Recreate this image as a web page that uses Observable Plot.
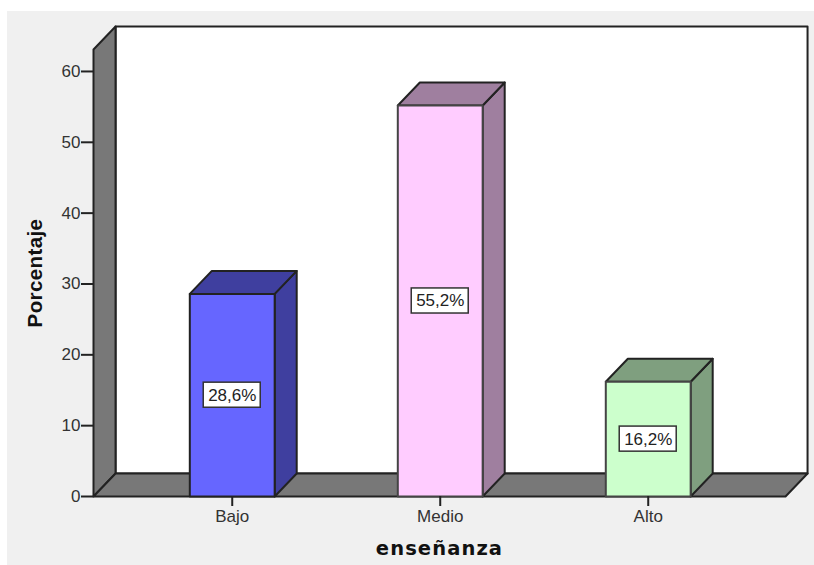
<!DOCTYPE html>
<html>
<head>
<meta charset="utf-8">
<script src="https://cdn.jsdelivr.net/npm/d3@7"></script>
<script src="https://cdn.jsdelivr.net/npm/@observablehq/plot@0.6"></script>
<style>
html,body{margin:0;padding:0;background:#fff}
svg{display:block}
.ytitle text{letter-spacing:.4px}
.xtitle text{letter-spacing:1.1px}
</style>
</head>
<body>
<div id="chart"></div>
<script>
const categories = ["Bajo", "Medio", "Alto"];
const percentages = [28.6, 55.2, 16.2];
const labels = ["28,6%", "55,2%", "16,2%"];
const frontColors = ["#6666ff", "#ffccff", "#ccffcc"];
const shadeColors = ["#3f3f9f", "#9f7f9f", "#7f9f7f"];
const yTicks = [0, 10, 20, 30, 40, 50, 60];

const yTop = 63.1;
const xMin = -0.667, xMax = 2.66;
const depthX = 0.106, depthY = 3.25;
const halfBar = 0.204;
const halfBoxX = 0.137, halfBoxY = 1.77;
const edge = "#222222";
const wall = "#787878";

const poly = (pts, fill, stroke = edge) =>
  Plot.line([...pts, pts[0]], {x: "0", y: "1", fill, stroke, strokeWidth: 2, strokeLinejoin: "round", curve: "linear"});
const box = (x0, x1, y0, y1) => [[x0, y0], [x1, y0], [x1, y1], [x0, y1]];

const backWall = poly(box(xMin + depthX, xMax + depthX, depthY, yTop + depthY), "#ffffff");
const leftWall = poly([[xMin, 0], [xMin + depthX, depthY], [xMin + depthX, yTop + depthY], [xMin, yTop]], wall);
const floor = poly([[xMin, 0], [xMax, 0], [xMax + depthX, depthY], [xMin + depthX, depthY]], wall);

const barMarks = categories.flatMap((c, i) => {
  const x0 = i - halfBar, x1 = i + halfBar, v = percentages[i];
  return [
    poly([[x1, 0], [x1 + depthX, depthY], [x1 + depthX, v + depthY], [x1, v]], shadeColors[i]),
    poly([[x0, v], [x1, v], [x1 + depthX, v + depthY], [x0 + depthX, v + depthY]], shadeColors[i]),
    poly(box(x0, x1, 0, v), frontColors[i], i === 0 ? edge : "#444444")
  ];
});

const rows = categories.map((c, i) => ({i, v: percentages[i] / 2, label: labels[i]}));

const plot = Plot.plot({
  width: 814,
  height: 565,
  marginLeft: 93,
  marginRight: 29,
  marginTop: 49,
  marginBottom: 69,
  style: {
    fontFamily: "'Liberation Sans', Arial, sans-serif",
    background: "linear-gradient(#f0f0f0,#f0f0f0) no-repeat 7px 11px",
    overflow: "visible"
  },
  x: {domain: [xMin, xMax]},
  y: {domain: [0, yTop]},
  marks: [
    backWall, leftWall, floor,
    ...barMarks,
    Plot.rect(rows, {
      x1: d => d.i - halfBoxX, x2: d => d.i + halfBoxX,
      y1: d => d.v - halfBoxY, y2: d => d.v + halfBoxY,
      fill: "#ffffff", stroke: "#333333", strokeWidth: 1.5
    }),
    Plot.text(rows, {x: "i", y: "v", text: "label", fontSize: 17, fill: "#222222"}),
    Plot.axisY({ticks: yTicks, tickSize: 12, tickPadding: 1, fontSize: 17, stroke: edge, strokeWidth: 2, fill: "#333333", label: null}),
    Plot.axisX({ticks: [0, 1, 2], tickFormat: i => categories[i], tickSize: 10, tickPadding: 3, fontSize: 17, stroke: edge, strokeWidth: 2, fill: "#333333", label: null}),
    Plot.text(["Porcentaje"], {className: "ytitle", frameAnchor: "left", textAnchor: "middle", rotate: -90, dx: -58, text: d => d, fontSize: 20.5, fontWeight: "bold", fill: "#111111"}),
    Plot.text(["enseñanza"], {className: "xtitle", frameAnchor: "bottom", dy: 58, text: d => d, fontSize: 19.5, fontWeight: "bold", fontFamily: "DejaVu Sans", fill: "#111111"})
  ]
});
document.getElementById("chart").append(plot);
</script>
</body>
</html>
